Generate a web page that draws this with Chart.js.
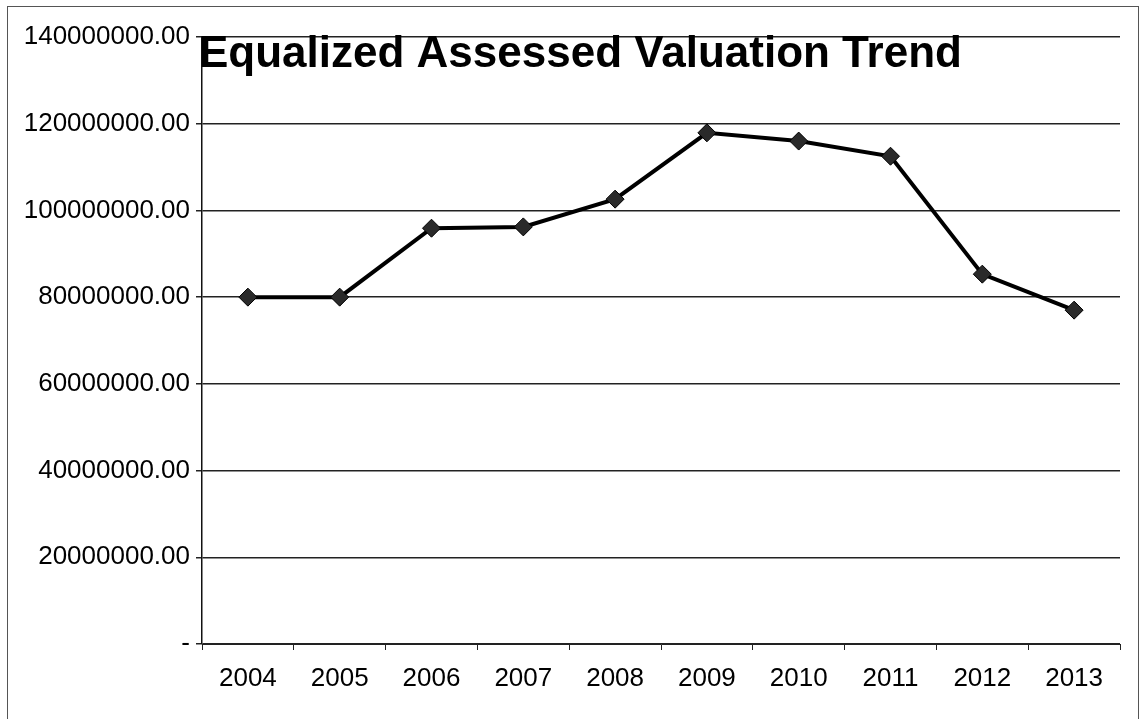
<!DOCTYPE html>
<html>
<head>
<meta charset="utf-8">
<script src="https://cdn.jsdelivr.net/npm/chart.js@4"></script>
<style>
  body { margin: 0; background: #fff; }
  #wrap { position: relative; width: 1144px; height: 719px; }
  #frame { position: absolute; left: 7px; top: 6px; width: 1132px; height: 720px; border: 1px solid #555; box-sizing: border-box; }
</style>
</head>
<body>
<div id="wrap">
  <div id="frame"></div>
  <canvas id="evChart" width="1144" height="719"></canvas>
</div>
<script>
const years = ['2004', '2005', '2006', '2007', '2008', '2009', '2010', '2011', '2012', '2013'];
const valuations = [80000000, 80000000, 95900000, 96200000, 102600000, 117900000, 116000000, 112500000, 85300000, 77000000];
const yTicks = [0, 20000000, 40000000, 60000000, 80000000, 100000000, 120000000, 140000000];
const chartTitle = 'Equalized Assessed Valuation Trend';

// title sits over the plot like in the excel chart, so draw it by hand
const titleOverlay = {
  id: 'titleOverlay',
  afterDraw(chart) {
    const c = chart.ctx;
    c.save();
    c.font = 'bold 44px "Liberation Sans", Arial, sans-serif';
    c.fillStyle = '#000';
    c.textBaseline = 'alphabetic';
    c.fillText(chartTitle, 199, 67);
    c.restore();
  }
};

const ctx = document.getElementById('evChart');
new Chart(ctx, {
  type: 'line',
  data: {
    labels: years,
    datasets: [{
      data: valuations,
      borderColor: '#000',
      borderWidth: 4,
      pointStyle: 'rectRot',
      pointRadius: 9,
      pointBackgroundColor: '#2a2a2a',
      pointBorderColor: '#000',
      pointBorderWidth: 1,
      tension: 0
    }]
  },
  options: {
    responsive: false,
    animation: false,
    layout: { padding: { top: 37, right: 24, left: 0, bottom: 0 } },
    plugins: {
      legend: { display: false },
      tooltip: { enabled: false }
    },
    scales: {
      x: {
        offset: true,
        afterFit: (s) => { s.height = 75; },
        border: { color: '#222', width: 1 },
        grid: { offset: true, drawOnChartArea: false, tickLength: 6, color: '#222' },
        ticks: {
          color: '#000',
          padding: 13,
          font: { family: '"Liberation Sans", Arial, sans-serif', size: 26 }
        }
      },
      y: {
        min: 0,
        max: 140000000,
        afterFit: (s) => { s.width = 202; },
        afterBuildTicks: (s) => { s.ticks = yTicks.map(v => ({ value: v })); },
        border: { color: '#111', width: 1.5 },
        grid: { color: '#222', lineWidth: 1.5, tickLength: 6 },
        ticks: {
          color: '#000',
          padding: 6,
          font: { family: '"Liberation Sans", Arial, sans-serif', size: 26 },
          callback: (v) => v === 0 ? '-' : v.toFixed(2)
        }
      }
    }
  },
  plugins: [titleOverlay]
});
</script>
</body>
</html>
